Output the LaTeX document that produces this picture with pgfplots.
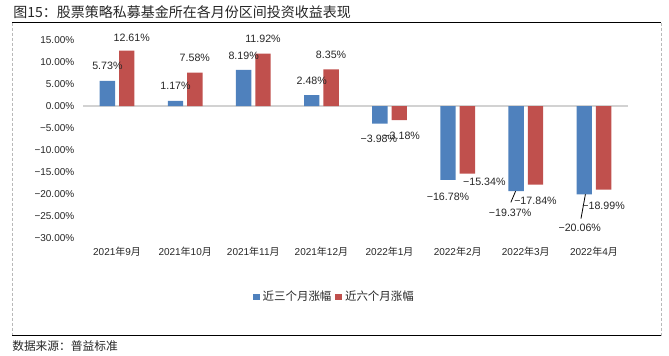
\documentclass[border=0pt]{standalone}
\usepackage{pgfplots}
\pgfplotsset{compat=1.18}
\usepackage{fontspec}
\setmainfont{Liberation Sans}
\newfontfamily\cjk{Noto Sans CJK SC}
\definecolor{cblue}{HTML}{4F81BD}
\definecolor{cred}{HTML}{C0504D}
\begin{document}
\begin{tikzpicture}[x=0.75pt,y=-0.75pt]
\useasboundingbox (0,0) rectangle (669,355);
% frame
\draw[gray!55, dash pattern=on 2.25pt off 1.5pt] (12,22.5) -- (12,335.5);
\draw[gray!55, dash pattern=on 2.25pt off 1.5pt] (661,22.5) -- (661,335.5);
\draw[black, line width=1pt] (12,22.5) -- (661,22.5);
\draw[black, line width=1pt] (12,335.5) -- (661,335.5);
\node[anchor=west, inner sep=0pt, text=black!85] at (13,12.5) {\cjk\fontsize{10.5}{12}\selectfont 图15：股票策略私募基金所在各月份区间投资收益表现};
\node[anchor=west, inner sep=0pt, text=black!85] at (12,346) {\cjk\fontsize{8.8}{10}\selectfont 数据来源：普益标准};
\begin{axis}[
  at={(62.25pt,-178.5pt)}, anchor=south west,
  scale only axis, width=408.75pt, height=148.5pt,
  xmin=-0.5, xmax=7.5, ymin=-30, ymax=15,
  clip=false,
  ybar=3pt, bar width=11.5pt,
  axis line style={draw=none}, tick style={draw=none},
  major tick length=0pt,
  xtick={0,...,7},
  xticklabels={2021{\cjk 年}9{\cjk 月},2021{\cjk 年}10{\cjk 月},2021{\cjk 年}11{\cjk 月},2021{\cjk 年}12{\cjk 月},2022{\cjk 年}1{\cjk 月},2022{\cjk 年}2{\cjk 月},2022{\cjk 年}3{\cjk 月},2022{\cjk 年}4{\cjk 月}},
  ytick={-30,-25,-20,-15,-10,-5,0,5,10,15},
  yticklabels={−30.00\%,−25.00\%,−20.00\%,−15.00\%,−10.00\%,−5.00\%,0.00\%,5.00\%,10.00\%,15.00\%},
  ticklabel style={font=\fontsize{7.5}{9}\selectfont, text=black!85},
  xticklabel style={yshift=-3.5pt},
  yticklabel style={xshift=-3pt},
  point meta=explicit symbolic,
  nodes near coords={\pgfplotspointmeta\%},
  visualization depends on={value \thisrow{dx}\as\dx},
  visualization depends on={value \thisrow{dy}\as\dy},
  every node near coord/.append style={anchor=center, inner sep=0pt, font=\fontsize{8}{9.6}\selectfont, text=black!85, xshift={\dx*0.75pt}, yshift={\dy*0.75pt}},
  legend style={at={(0.462,-0.298)}, anchor=center, draw=none, fill=none, legend columns=2,
    font=\cjk\fontsize{8.6}{10}\selectfont, text=black!85,
    /tikz/every even column/.append style={column sep=1pt}},
  legend image code/.code={\fill[#1] (0pt,-2.6pt) rectangle (5.2pt,2.6pt);},
]
\draw[gray!35, line width=0.8pt] (axis cs:-0.5,0) -- (axis cs:7.5,0);
\addplot[fill=cblue, draw=none] table[x=x,y=y,meta=lbl] {
x y dx dy lbl
0 5.73 0 15 5.73
1 1.17 0 15 1.17
2 8.19 0 14 8.19
3 2.48 0 14 2.48
4 -3.98 -1 -15 −3.98
5 -16.78 0 -16.5 −16.78
6 -19.37 -6 -22 −19.37
7 -20.06 -4.5 -34 −20.06
};
\addlegendentry{近三个月涨幅}
\addplot[fill=cred, draw=none] table[x=x,y=y,meta=lbl] {
x y dx dy lbl
0 12.61 5 12.5 12.61
1 7.58 0 15 7.58
2 11.92 0 15 11.92
3 8.35 0 14 8.35
4 -3.18 2.5 -15.7 −3.18
5 -15.34 17 -8 −15.34
6 -17.84 0 -16 −17.84
7 -18.99 0 -16 −18.99
};
\addlegendentry{近六个月涨幅}
\draw[black, line width=0.6pt] (axis cs:5.78,-21.9) -- (axis cs:5.85,-19.37);
\draw[black, line width=0.6pt] (axis cs:6.81,-25.6) -- (axis cs:6.875,-20.06);
\end{axis}
\end{tikzpicture}
\end{document}
